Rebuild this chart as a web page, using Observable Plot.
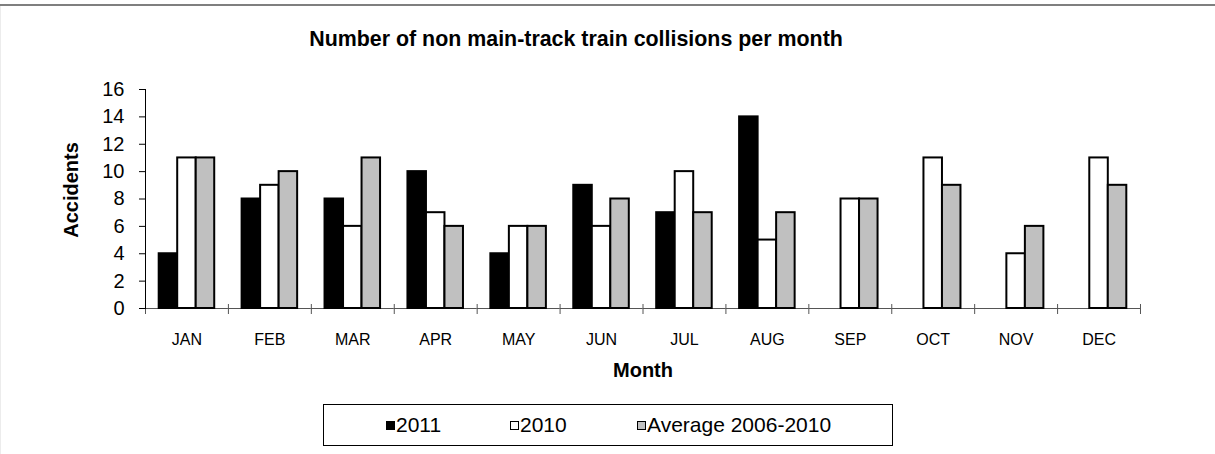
<!DOCTYPE html>
<html>
<head>
<meta charset="utf-8">
<script src="https://cdn.jsdelivr.net/npm/d3@7"></script>
<script src="https://cdn.jsdelivr.net/npm/@observablehq/plot@0.6"></script>
<style>
  body { margin: 0; background: #fff; }
  #wrap { position: relative; width: 1215px; height: 454px; overflow: hidden; font-family: "Liberation Sans", Arial, sans-serif; color: #000; }
  #topline { position: absolute; left: 0; top: 4px; width: 1215px; height: 2px; background: #7f7f7f; }
  #leftline { position: absolute; left: 0; top: 6px; width: 1px; height: 448px; background: #ececec; }
  #title { position: absolute; top: 29px; left: 576px; transform: translateX(-50%); font-size: 21.4px; font-weight: bold; line-height: 1; white-space: nowrap; }
  #chart { position: absolute; left: 0; top: 0; }
  #legend { position: absolute; left: 323px; top: 404px; width: 570px; height: 42px; box-sizing: border-box; border: 1px solid #000; display: flex; align-items: center; padding-left: 62px; font-size: 21px; background: #fff; }
  .item { display: flex; align-items: center; white-space: nowrap; }
  .item:nth-child(1) { width: 124px; }
  .item:nth-child(2) { width: 127px; }
  .sw { width: 9px; height: 9px; border: 1.5px solid #000; box-sizing: border-box; margin-right: 1px; }
  g[aria-label="y-axis label"], g[aria-label="fx-axis label"] { font-weight: bold; font-size: 20px; }
  g[aria-label="y-axis label"] text { translate: 0 -9px; }
</style>
</head>
<body>
<div id="wrap">
  <div id="topline"></div>
  <div id="leftline"></div>
  <div id="chart"></div>
  <div id="title"></div>
  <div id="legend"></div>
</div>
<script>
const months = ["JAN", "FEB", "MAR", "APR", "MAY", "JUN", "JUL", "AUG", "SEP", "OCT", "NOV", "DEC"];
const seriesNames = ["2011", "2010", "Average 2006-2010"];
const values2011 = [4, 8, 8, 10, 4, 9, 7, 14, null, null, null, null];
const values2010 = [11, 9, 6, 7, 6, 6, 10, 5, 8, 11, 4, 11];
const valuesAvg = [11, 10, 11, 6, 6, 8, 7, 7, 8, 9, 6, 9];
const seriesColors = ["#000000", "#ffffff", "#c0c0c0"];
const yTicks = [0, 2, 4, 6, 8, 10, 12, 14, 16];
const titleText = "Number of non main-track train collisions per month";
const xLabel = "Month";
const yLabel = "Accidents";

const columns = [values2011, values2010, valuesAvg];
const data = months.flatMap((m, i) =>
  seriesNames.map((s, j) => ({ month: m, series: s, value: columns[j][i] }))
).filter(d => d.value != null);

const chart = Plot.plot({
  width: 1215,
  height: 454,
  marginTop: 89,
  marginBottom: 146,
  marginLeft: 145,
  marginRight: 75,
  style: { fontFamily: "'Liberation Sans', Arial, sans-serif", background: "transparent", color: "#000" },
  fx: { domain: months, padding: 0, round: false },
  x: { domain: seriesNames, paddingInner: 0, paddingOuter: 0.74, round: false, axis: null },
  y: { domain: [0, 16] },
  color: { domain: seriesNames, range: seriesColors },
  marks: [
    Plot.ruleY([0], { stroke: "#555", strokeWidth: 1 }),
    Plot.frame({ anchor: "left", insetTop: 215, insetBottom: -5, stroke: "#555" }),
    Plot.frame({ anchor: "right", facetAnchor: "right", insetTop: 215, insetBottom: -5, stroke: "#555" }),
    Plot.frame({ anchor: "left", facetAnchor: "left", stroke: "#000" }),
    Plot.barY(data, { fx: "month", x: "series", y: "value", fill: "series", stroke: "#000", strokeWidth: 2, inset: 0 }),
    Plot.axisY({ ticks: yTicks, tickSize: 6, tickPadding: 15, fontSize: 20, tickFormat: d => d, label: yLabel, labelAnchor: "center", labelOffset: 82, labelArrow: "none" }),
    Plot.axisFx({ anchor: "bottom", tickSize: 0, tickPadding: 25, fontSize: 16, label: xLabel, labelAnchor: "center", labelOffset: 68, labelArrow: "none" })
  ]
});
document.getElementById("chart").appendChild(chart);
document.getElementById("title").textContent = titleText;

const legend = document.getElementById("legend");
seriesNames.forEach((s, j) => {
  const item = document.createElement("div");
  item.className = "item";
  const sw = document.createElement("span");
  sw.className = "sw";
  sw.style.background = seriesColors[j];
  const label = document.createElement("span");
  label.textContent = s;
  item.appendChild(sw);
  item.appendChild(label);
  legend.appendChild(item);
});
</script>
</body>
</html>
